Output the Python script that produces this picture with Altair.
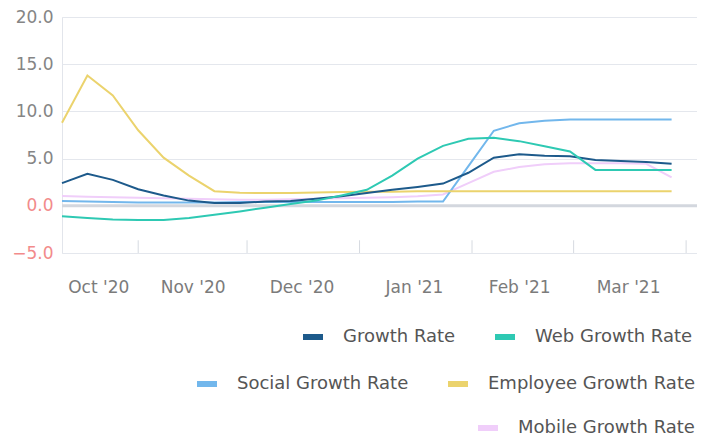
import altair as alt
import pandas as pd

# weekly observation dates
dates = [
    "2020-10-11", "2020-10-18", "2020-10-25", "2020-11-01", "2020-11-08",
    "2020-11-15", "2020-11-22", "2020-11-29", "2020-12-06", "2020-12-13",
    "2020-12-20", "2020-12-27", "2021-01-03", "2021-01-10", "2021-01-17",
    "2021-01-24", "2021-01-31", "2021-02-07", "2021-02-14", "2021-02-21",
    "2021-02-28", "2021-03-07", "2021-03-14", "2021-03-21", "2021-03-28",
]

growth = [2.4, 3.4, 2.75, 1.75, 1.1, 0.55, 0.3, 0.3, 0.45, 0.5, 0.75, 1.0, 1.35,
          1.7, 2.0, 2.35, 3.5, 5.1, 5.45, 5.3, 5.25, 4.85, 4.75, 4.65, 4.45]
web = [-1.1, -1.3, -1.45, -1.5, -1.5, -1.3, -0.95, -0.6, -0.2, 0.2, 0.55, 1.1, 1.7,
       3.2, 5.0, 6.35, 7.1, 7.2, 6.85, 6.3, 5.75, 3.8, 3.8, 3.8, 3.8]
social = [0.5, 0.45, 0.4, 0.35, 0.35, 0.35, 0.35, 0.4, 0.4, 0.4, 0.4, 0.4, 0.4,
          0.4, 0.45, 0.45, 4.2, 7.95, 8.75, 9.0, 9.15, 9.15, 9.15, 9.15, 9.15]
employee = [8.8, 13.8, 11.7, 8.0, 5.1, 3.2, 1.55, 1.37, 1.35, 1.35, 1.4, 1.45, 1.5,
            1.5, 1.55, 1.55, 1.55, 1.55, 1.55, 1.55, 1.55, 1.55, 1.55, 1.55, 1.55]
mobile = [1.05, 0.95, 0.9, 0.85, 0.8, 0.75, 0.7, 0.65, 0.65, 0.7, 0.75, 0.8, 0.85,
          0.9, 1.0, 1.2, 2.4, 3.6, 4.1, 4.4, 4.5, 4.5, 4.5, 4.45, 3.0]

series_names = ["Growth Rate", "Web Growth Rate", "Social Growth Rate",
                "Employee Growth Rate", "Mobile Growth Rate"]
series_values = [growth, web, social, employee, mobile]
series_colors = ["#1d5a8b", "#2ec9b3", "#72b7ec", "#ebd36d", "#f0cefa"]

month_starts = ["2020-11-01", "2020-12-01", "2021-01-01", "2021-02-01",
                "2021-03-01", "2021-04-01"]
label_dates = ["2020-10-21", "2020-11-16", "2020-12-16", "2021-01-16",
               "2021-02-14", "2021-03-16"]
y_ticks = [-5, 0, 5, 10, 15, 20]

rows = []
for name, vals in zip(series_names, series_values):
    for d, v in zip(dates, vals):
        rows.append({"date": d, "series": name, "value": v})
df = pd.DataFrame(rows)

FONT = "DejaVu Sans"


def dt(s):
    y, m, d = (int(p) for p in s.split("-"))
    return alt.DateTime(year=y, month=m, date=d, utc=True)


xscale = alt.Scale(type="utc", domain=[dt("2020-10-11"), dt("2021-04-04")])
yscale = alt.Scale(domain=[-5, 20], nice=False, zero=False)

x_axis = alt.Axis(
    values=[dt(s) for s in label_dates], format="%b '%y", title=None,
    grid=False, ticks=False, domain=False, labelPadding=26,
    labelFont=FONT, labelFontSize=17, labelColor="#7b7b7b", labelAlign="center",
)
y_axis = alt.Axis(
    values=y_ticks, format=".1f", title=None, grid=True, gridColor="#e4e7ed",
    ticks=False, domain=False, labelPadding=9, labelFont=FONT, labelFontSize=17,
    labelColor={"condition": {"test": "datum.value <= 0", "value": "#f28b8b"},
                "value": "#858585"},
)

X = alt.X("date:T", scale=xscale, axis=x_axis, title=None)
Y = alt.Y("value:Q", scale=yscale, axis=y_axis, title=None)

zero = alt.Chart(pd.DataFrame({"value": [0]})).mark_rule(
    color="#d3d7de", strokeWidth=3
).encode(y=Y)

ticks = alt.Chart(pd.DataFrame({"date": month_starts})).mark_rule(
    color="#d6dae1", strokeWidth=1
).encode(x=X, y=alt.datum(-5), y2=alt.datum(-3.65))


def line_layer(idx, lx, ly):
    names = [series_names[i] for i in idx]
    cols = [series_colors[i] for i in idx]
    sub = df[df["series"].isin(names)]
    return alt.Chart(sub).mark_line(strokeWidth=2).encode(
        x=X,
        y=Y,
        color=alt.Color(
            "series:N", sort=names,
            scale=alt.Scale(domain=names, range=cols),
            legend=alt.Legend(
                orient="none", legendX=lx, legendY=ly, direction="horizontal",
                title=None, symbolType="M-1,0L1,0", symbolSize=400,
                symbolStrokeWidth=6, labelFont=FONT, labelFontSize=18,
                labelColor="#555555", labelOffset=17, columnPadding=27,
                labelLimit=400, padding=0,
            ),
        ),
    )


row1 = line_layer([0, 1], 238, 307)
row2 = line_layer([2, 3], 132, 354)
row3 = line_layer([4], 413, 398)

chart = alt.layer(zero, ticks, row3, row2, row1).resolve_scale(
    color="independent"
).resolve_legend(color="independent").properties(
    width=635, height=236,
    autosize=alt.AutoSizeParams(type="none"),
    padding={"left": 54, "top": 9, "right": 0, "bottom": 184},
).configure_view(stroke="#e2e5eb", strokeWidth=1)

chart.save("out.html", embed_options={"renderer": "svg", "actions": False})
